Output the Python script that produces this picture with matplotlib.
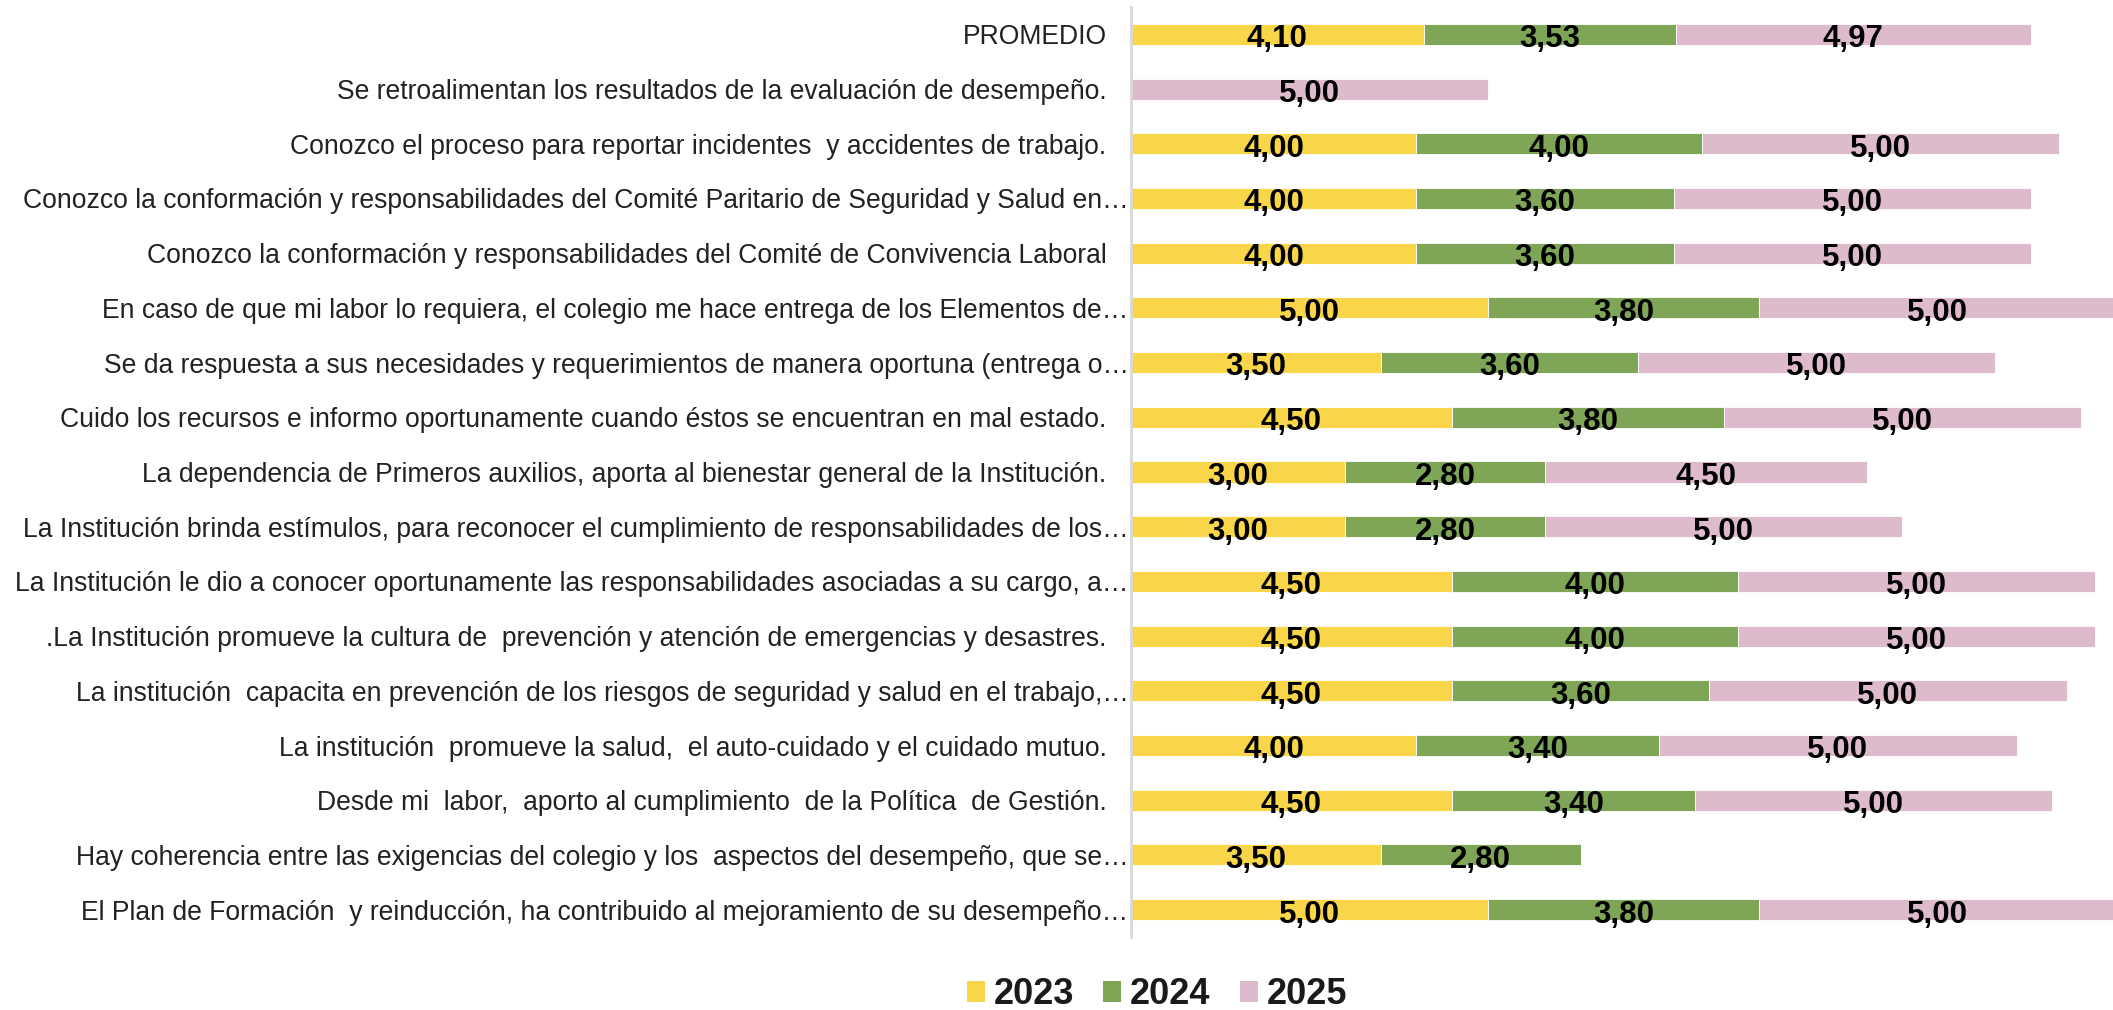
import numpy as np
import matplotlib
matplotlib.use("Agg")
import matplotlib.pyplot as plt
import matplotlib.transforms as mtransforms
from matplotlib.patches import Patch

plt.rcParams['font.family'] = ['Liberation Sans', 'DejaVu Sans']

categories = [
    "PROMEDIO",
    "Se retroalimentan los resultados de la evaluación de desempeño.",
    "Conozco el proceso para reportar incidentes  y accidentes de trabajo.",
    "Conozco la conformación y responsabilidades del Comité Paritario de Seguridad y Salud en…",
    "Conozco la conformación y responsabilidades del Comité de Convivencia Laboral",
    "En caso de que mi labor lo requiera, el colegio me hace entrega de los Elementos de…",
    "Se da respuesta a sus necesidades y requerimientos de manera oportuna (entrega o…",
    "Cuido los recursos e informo oportunamente cuando éstos se encuentran en mal estado.",
    "La dependencia de Primeros auxilios, aporta al bienestar general de la Institución.",
    "La Institución brinda estímulos, para reconocer el cumplimiento de responsabilidades de los…",
    "La Institución le dio a conocer oportunamente las responsabilidades asociadas a su cargo, a…",
    ".La Institución promueve la cultura de  prevención y atención de emergencias y desastres.",
    "La institución  capacita en prevención de los riesgos de seguridad y salud en el trabajo,…",
    "La institución  promueve la salud,  el auto-cuidado y el cuidado mutuo.",
    "Desde mi  labor,  aporto al cumplimiento  de la Política  de Gestión.",
    "Hay coherencia entre las exigencias del colegio y los  aspectos del desempeño, que se…",
    "El Plan de Formación  y reinducción, ha contribuido al mejoramiento de su desempeño…",
]

# None = no response recorded for that year
v2023 = [4.10, None, 4.00, 4.00, 4.00, 5.00, 3.50, 4.50, 3.00, 3.00, 4.50, 4.50, 4.50, 4.00, 4.50, 3.50, 5.00]
v2024 = [3.53, None, 4.00, 3.60, 3.60, 3.80, 3.60, 3.80, 2.80, 2.80, 4.00, 4.00, 3.60, 3.40, 3.40, 2.80, 3.80]
v2025 = [4.97, 5.00, 5.00, 5.00, 5.00, 5.00, 5.00, 5.00, 4.50, 5.00, 5.00, 5.00, 5.00, 5.00, 5.00, None, 5.00]

years = ["2023", "2024", "2025"]
colors = ["#F8D549", "#7EA656", "#DDBBCC"]

fig = plt.figure(figsize=(21.13, 10.10), dpi=100)
ax = fig.add_axes([1130.7 / 2113, 1 - 937 / 1010, 1 - 1130.7 / 2113, (937 - 7) / 1010])

bar_h = 0.385
y = np.arange(len(categories))
left = np.zeros(len(categories))
for series, color in zip([v2023, v2024, v2025], colors):
    vals = np.array([np.nan if v is None else v for v in series], dtype=float)
    w = np.nan_to_num(vals)
    ax.barh(y, w, left=left, height=bar_h, color=color,
            edgecolor="white", linewidth=0.6)
    for yi, (l, v) in enumerate(zip(left, vals)):
        if not np.isnan(v):
            # baseline just under the lower edge of the bar
            ax.text(l + v / 2, yi + 0.235, f"{v:.2f}".replace(".", ","),
                    ha="center", va="baseline", fontsize=22.5,
                    fontweight="bold", color="black")
    left = left + w

ax.set_ylim(len(categories) - 0.5, -0.5)
ax.set_xlim(0, 13.75)
ax.set_yticks(y)
ax.set_yticklabels(categories, fontsize=19.1, color="#222222")
ax.tick_params(axis="y", length=0, pad=1.5)
# full (untruncated) labels sit a little further from the axis
for lbl in ax.get_yticklabels():
    if not lbl.get_text().endswith("…"):
        lbl.set_transform(lbl.get_transform() +
                          mtransforms.ScaledTranslation(-22 / 100, 0, fig.dpi_scale_trans))
ax.set_xticks([])
for s in ["top", "right", "bottom"]:
    ax.spines[s].set_visible(False)
ax.spines["left"].set_color("#d9d9d9")
ax.spines["left"].set_linewidth(2)

handles = [Patch(facecolor=c, edgecolor="none") for c in colors]
fig.legend(handles, years, loc="center", bbox_to_anchor=(1157 / 2113, 1 - 995 / 1010),
           ncol=3, frameon=False, prop={"size": 26, "weight": "bold"},
           handlelength=0.5, handleheight=0.5, handletextpad=0.25,
           columnspacing=0.8, labelcolor="#1a1a1a")

fig.savefig("out.png", dpi=100)
